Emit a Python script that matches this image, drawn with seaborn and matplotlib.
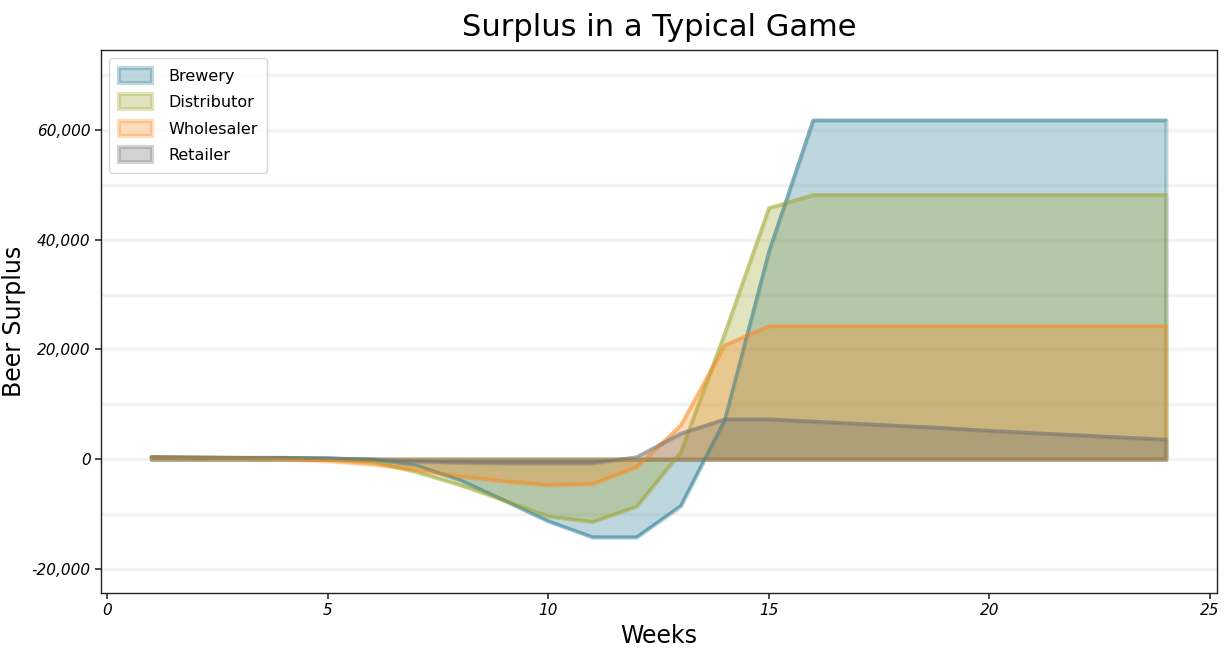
import numpy as np
import pandas as pd
import seaborn as sns
import matplotlib.pyplot as plt
from matplotlib.ticker import MultipleLocator, FuncFormatter

weeks = list(range(1, 25))
brewery = [400, 300, 300, 300, 200, -100, -1100, -3800, -7500, -11300, -14200, -14200,
           -8500, 7200, 37900, 61800, 61800, 61800, 61800, 61800, 61800, 61800, 61800, 61800]
distributor = [400, 300, 300, 200, 0, -400, -2300, -4700, -7500, -10400, -11400, -8600,
               1300, 23000, 45800, 48200, 48200, 48200, 48200, 48200, 48200, 48200, 48200, 48200]
wholesaler = [400, 300, 200, 0, -300, -900, -1900, -3100, -4000, -4700, -4500, -1400,
              6200, 20800, 24300, 24300, 24300, 24300, 24300, 24300, 24300, 24300, 24300, 24300]
retailer = [400, 400, 300, 300, 200, 0, -400, -600, -700, -700, -700, 400,
            4700, 7300, 7300, 6900, 6500, 6100, 5700, 5200, 4800, 4400, 4000, 3600]

roles = ["Brewery", "Distributor", "Wholesaler", "Retailer"]
colors = ["#2a7a93", "#9ea52d", "#fc8a20", "#707070"]

df = pd.DataFrame({"Weeks": weeks, "Brewery": brewery, "Distributor": distributor,
                   "Wholesaler": wholesaler, "Retailer": retailer})
long = df.melt(id_vars="Weeks", var_name="Role", value_name="Surplus")

sns.set_theme(style="ticks")
plt.rcParams['font.family'] = ['DejaVu Sans']
plt.rcParams['text.color'] = 'black'
plt.rcParams['xtick.color'] = 'black'
plt.rcParams['ytick.color'] = 'black'
plt.rcParams['axes.labelcolor'] = 'black'

fig, ax = plt.subplots(figsize=(12.26, 6.57), dpi=100)
fig.subplots_adjust(left=0.0824, right=0.9927, top=0.9239, bottom=0.0974)

ax.yaxis.set_minor_locator(MultipleLocator(10000))
ax.yaxis.set_major_locator(MultipleLocator(20000))
ax.grid(axis="y", which="both", color="#f3f3f3", linewidth=2.5, zorder=0)
ax.set_axisbelow(True)

# shaded areas (these make the legend)
for role, c in zip(roles, colors):
    ax.fill_between(df["Weeks"], df[role], 0, facecolor=c, edgecolor=c,
                    alpha=0.3, linewidth=3, label=role)

sns.lineplot(data=long, x="Weeks", y="Surplus", hue="Role", palette=colors,
             hue_order=roles, linewidth=2.3, alpha=0.42, legend=False, ax=ax)

ax.set_xlim(-0.14, 25.16)
ax.set_ylim(-24400, 74600)
ax.xaxis.set_major_locator(MultipleLocator(5))
ax.yaxis.set_major_formatter(FuncFormatter(lambda v, p: f"{int(v):,}"))
ax.tick_params(axis="both", which="major", labelsize=11, length=4, color="#333333")
ax.tick_params(axis="y", which="minor", length=0)
for lab in ax.get_xticklabels() + ax.get_yticklabels():
    lab.set_style("italic")
for s in ax.spines.values():
    s.set_color("#222222")
    s.set_linewidth(1.0)

ax.set_title("Surplus in a Typical Game", fontsize=22, pad=10)
ax.set_xlabel("Weeks", fontsize=17)
ax.set_ylabel("Beer Surplus", fontsize=17)

ax.legend(loc="upper left", fontsize=11.5, handlelength=2.1, handleheight=1.1,
          frameon=True, borderpad=0.6, labelspacing=0.65, handletextpad=1.0)

fig.savefig("out.png", dpi=100)
